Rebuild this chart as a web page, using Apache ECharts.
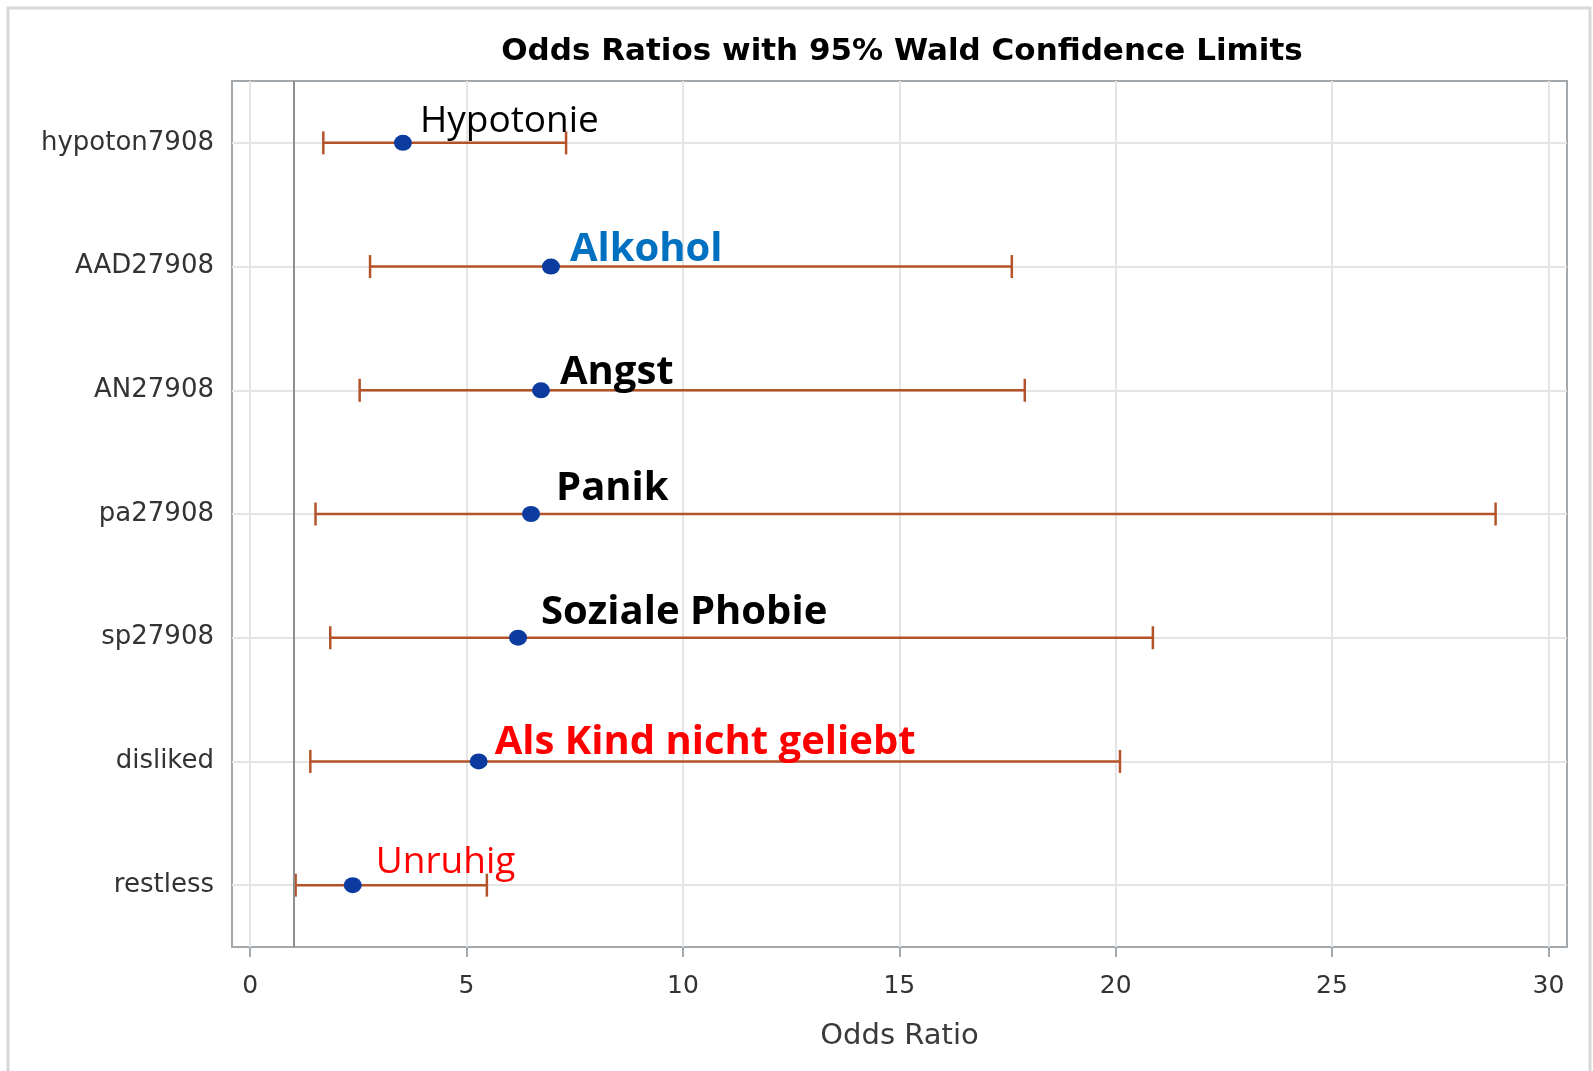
<!DOCTYPE html>
<html>
<head>
<meta charset="utf-8">
<script src="https://cdn.jsdelivr.net/npm/echarts@6/dist/echarts.min.js"></script>
<style>
  html, body { margin: 0; padding: 0; background: #ffffff; }
  #chart { width: 1593px; height: 1071px; }
</style>
</head>
<body>
<div id="chart"></div>
<script>
// Effects in the logistic model, top to bottom
const categories = ['hypoton7908', 'AAD27908', 'AN27908', 'pa27908', 'sp27908', 'disliked', 'restless'];
const oddsRatio  = [3.53, 6.95, 6.72, 6.49, 6.19, 5.28, 2.37];
const lowerCL    = [1.69, 2.77, 2.53, 1.51, 1.85, 1.39, 1.05];
const upperCL    = [7.30, 17.60, 17.90, 28.78, 20.86, 20.10, 5.47];
const annotations = ['Hypotonie', 'Alkohol', 'Angst', 'Panik', 'Soziale Phobie', 'Als Kind nicht geliebt', 'Unruhig'];
const xTicks = [0, 5, 10, 15, 20, 25, 30];
const referenceOR = 1;

// Look of the annotation next to each estimate
const noteStyle = [
  { color: '#000000', fontWeight: 'normal', fontSize: 37, dx: 17, dy: -21 },
  { color: '#0070C0', fontWeight: 'bold',   fontSize: 40, dx: 19, dy: -17 },
  { color: '#000000', fontWeight: 'bold',   fontSize: 40, dx: 19, dy: -18 },
  { color: '#000000', fontWeight: 'bold',   fontSize: 40, dx: 25, dy: -25 },
  { color: '#000000', fontWeight: 'bold',   fontSize: 40, dx: 23, dy: -25 },
  { color: '#FF0000', fontWeight: 'bold',   fontSize: 40, dx: 16, dy: -19 },
  { color: '#FF0000', fontWeight: 'normal', fontSize: 37, dx: 23, dy: -23 }
];

const frameColor = '#A3A8AD';
const gridColor = '#E5E5E5';
const barColor = '#B4532A';
const dotColor = '#0B3B9F';
const dotSize = [18, 16];
const sasFont = 'DejaVu Sans';
const noteFont = 'Open Sans';

const rowIndex = categories.map((_, i) => i);

const chart = echarts.init(document.getElementById('chart'), null, { renderer: 'canvas' });

chart.setOption({
  backgroundColor: '#ffffff',
  animation: false,
  title: {
    text: 'Odds Ratios with 95% Wald Confidence Limits',
    left: 897,
    top: 31,
    textAlign: 'center',
    textStyle: { fontFamily: sasFont, fontWeight: 'bold', fontSize: 31, color: '#000000' }
  },
  graphic: [{
    type: 'rect',
    shape: { x: 8, y: 8, width: 1582, height: 1090 },
    style: { fill: null, stroke: '#D8D8D8', lineWidth: 3 },
    silent: true
  }],
  grid: {
    left: 232, right: 26, top: 81, height: 866,
    show: true, borderColor: frameColor, borderWidth: 2, backgroundColor: 'transparent'
  },
  xAxis: {
    type: 'value',
    min: -0.42,
    max: 30.43,
    name: 'Odds Ratio',
    nameLocation: 'middle',
    nameGap: 75,
    nameTextStyle: { fontFamily: sasFont, fontSize: 29, color: '#3A3A3A' },
    axisLine: { show: false, onZero: false },
    axisTick: { show: true, customValues: xTicks, length: 10, inside: false, lineStyle: { color: frameColor, width: 2 } },
    axisLabel: { customValues: xTicks, margin: 27, fontFamily: sasFont, fontSize: 25, color: '#333333' },
    splitLine: { show: true, lineStyle: { color: gridColor, width: 2 } }
  },
  yAxis: {
    type: 'value',
    inverse: true,
    min: -0.5,
    max: 6.5,
    axisLine: { show: false, onZero: false },
    axisTick: { show: false, customValues: rowIndex },
    axisLabel: {
      customValues: rowIndex,
      formatter: v => categories[v],
      margin: 18,
      fontFamily: sasFont, fontSize: 26, color: '#333333'
    },
    splitLine: { show: true, lineStyle: { color: gridColor, width: 2 } }
  },
  series: [
    {
      // 95% Wald confidence limits with end caps
      type: 'custom',
      name: 'CL',
      z: 3,
      data: rowIndex.map(i => [i, lowerCL[i], upperCL[i]]),
      encode: { x: [1, 2], y: 0 },
      renderItem: function (params, api) {
        const row = api.value(0);
        const lo = api.coord([api.value(1), row]);
        const hi = api.coord([api.value(2), row]);
        const cap = 11.5;
        const style = { stroke: barColor, lineWidth: 2.5 };
        return {
          type: 'group',
          children: [
            { type: 'line', shape: { x1: lo[0], y1: lo[1], x2: hi[0], y2: hi[1] }, style: style },
            { type: 'line', shape: { x1: lo[0], y1: lo[1] - cap, x2: lo[0], y2: lo[1] + cap }, style: style },
            { type: 'line', shape: { x1: hi[0], y1: hi[1] - cap, x2: hi[0], y2: hi[1] + cap }, style: style }
          ]
        };
      }
    },
    {
      // point estimates with their annotations
      type: 'scatter',
      name: 'Odds Ratio',
      z: 4,
      symbol: 'circle',
      symbolSize: dotSize,
      itemStyle: { color: dotColor, opacity: 1 },
      data: rowIndex.map(i => ({
        value: [oddsRatio[i], i],
        label: {
          show: true,
          formatter: annotations[i],
          position: [dotSize[0] / 2 + noteStyle[i].dx, dotSize[1] / 2 + noteStyle[i].dy],
          align: 'left',
          verticalAlign: 'middle',
          fontFamily: noteFont,
          fontSize: noteStyle[i].fontSize,
          fontWeight: noteStyle[i].fontWeight,
          color: noteStyle[i].color
        }
      })),
      markLine: {
        silent: true,
        symbol: 'none',
        label: { show: false },
        lineStyle: { color: '#8E8E8E', width: 2, type: 'solid' },
        data: [{ xAxis: referenceOR }]
      }
    }
  ]
});
</script>
</body>
</html>
